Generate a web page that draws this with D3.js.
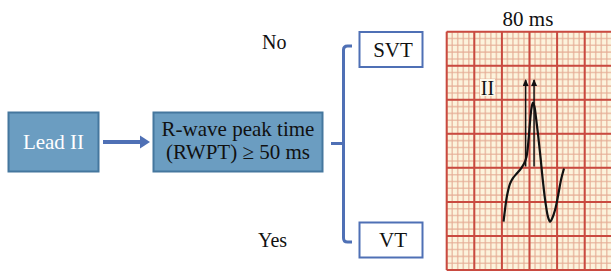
<!DOCTYPE html>
<html>
<head>
<meta charset="utf-8">
<script src="https://cdn.jsdelivr.net/npm/d3@7"></script>
<style>
  body { margin: 0; background: #ffffff; }
  text { font-family: "Liberation Serif", "Times New Roman", serif; }
</style>
</head>
<body>
<script>
// flow chart labels
var startLabel = "Lead II";
var testLabel = ["R-wave peak time", "(RWPT) \u2265 50 ms"];
var branchAnswers = ["No", "Yes"];
var branchResults = ["SVT", "VT"];

// ecg strip (lead II), time in ms and amplitude in mV above bottom of strip
var ecgTitle = "80 ms";
var ecgLead = "II";
var ecgTime = [412, 422, 437, 459, 480, 509, 538, 560, 578, 593, 604, 614, 625,
               636, 647, 662, 680, 698, 716, 734, 749, 767, 785, 807, 828, 850];
var ecgAmp = [0.71, 0.88, 1.09, 1.27, 1.35, 1.42, 1.49, 1.56, 1.66, 1.91, 2.18, 2.37, 2.46,
              2.40, 2.24, 1.99, 1.65, 1.29, 0.99, 0.78, 0.71, 0.77, 0.88, 1.09, 1.32, 1.49];
var markerTime = [572, 633];
var markerAmp = [1.52, 2.79];

var W = 611, H = 271;

var svg = d3.select("body").append("svg")
                .attr("width", W)
                .attr("height", H);

var defs = svg.append("defs");

defs.append("marker")
        .attr("id", "upHead")
        .attr("orient", "auto")
        .attr("markerUnits", "userSpaceOnUse")
        .attr("markerWidth", 7)
        .attr("markerHeight", 8)
        .attr("refX", 6)
        .attr("refY", 3)
      .append("path")
        .attr("d", "M0,0 L7,3 L0,6 Z")
        .style("fill", "#111");

//---------------- flow chart ----------------
var flow = svg.append("g").attr("class", "flow");

var boxFill = "#6b9dc1", boxStroke = "#45779e", lineBlue = "#4f70b5";

flow.append("rect")
        .attr("x", 8.5).attr("y", 112.5)
        .attr("width", 90).attr("height", 59)
        .style("fill", boxFill)
        .style("stroke", boxStroke)
        .style("stroke-width", 2);

flow.append("text")
        .attr("x", 53.5).attr("y", 149)
        .attr("text-anchor", "middle")
        .style("font-size", "21px")
        .style("fill", "#ffffff")
        .text(startLabel);

flow.append("line")
        .attr("x1", 103).attr("x2", 141)
        .attr("y1", 142).attr("y2", 142)
        .style("stroke", lineBlue)
        .style("stroke-width", 4);
flow.append("path")
        .attr("d", "M140,135.5 L150,142 L140,148.5 Z")
        .style("fill", lineBlue);

flow.append("rect")
        .attr("x", 153.5).attr("y", 112.5)
        .attr("width", 169).attr("height", 59)
        .style("fill", boxFill)
        .style("stroke", boxStroke)
        .style("stroke-width", 2);

flow.selectAll("text.test")
        .data(testLabel)
        .enter().append("text")
        .attr("class", "test")
        .attr("x", 238)
        .attr("y", function(d, i){ return 136 + i * 23; })
        .attr("text-anchor", "middle")
        .style("font-size", "21px")
        .style("fill", "#111")
        .text(function(d){ return d; });

// bracket
flow.append("path")
        .attr("d", "M331,143.5 H343")
        .style("stroke", lineBlue)
        .style("stroke-width", 3)
        .style("fill", "none");
flow.append("path")
        .attr("d", "M352,46 H347.5 Q343.5,46 343.5,50 V238 Q343.5,242 347.5,242 H352")
        .style("stroke", lineBlue)
        .style("stroke-width", 3)
        .style("fill", "none");

var resultY = [32, 222.5];
var answerPos = [[262, 49], [258, 247]];

flow.selectAll("rect.result")
        .data(branchResults)
        .enter().append("rect")
        .attr("class", "result")
        .attr("x", 359.5)
        .attr("y", function(d, i){ return resultY[i]; })
        .attr("width", 63).attr("height", 35)
        .style("fill", "#ffffff")
        .style("stroke", lineBlue)
        .style("stroke-width", 2);

flow.selectAll("text.result")
        .data(branchResults)
        .enter().append("text")
        .attr("class", "result")
        .attr("x", 393)
        .attr("y", function(d, i){ return resultY[i] + 24.5; })
        .attr("text-anchor", "middle")
        .style("font-size", "21px")
        .style("fill", "#111")
        .text(function(d){ return d; });

flow.selectAll("text.answer")
        .data(branchAnswers)
        .enter().append("text")
        .attr("class", "answer")
        .attr("x", function(d, i){ return answerPos[i][0]; })
        .attr("y", function(d, i){ return answerPos[i][1]; })
        .style("font-size", "20px")
        .style("fill", "#111")
        .text(function(d){ return d; });

//---------------- ecg strip ----------------
var x = d3.scaleLinear().domain([0, 1200]).range([446.7, 612.3]);
var y = d3.scaleLinear().domain([0, 3.5]).range([270, 31.7]);

var ecg = svg.append("g").attr("class", "ecg");

ecg.append("rect")
        .attr("x", x(0)).attr("y", y(3.5))
        .attr("width", W - x(0)).attr("height", y(0) - y(3.5))
        .style("fill", "#fcf3dc");

var minorX = d3.range(0, 1201, 40), minorY = d3.range(0, 36, 1).map(function(d){ return d / 10; });
var majorX = d3.range(0, 1201, 200), majorY = d3.range(0, 3.51, 0.5);

ecg.selectAll("line.minorX")
        .data(minorX)
        .enter().append("line")
        .attr("x1", function(d){ return x(d); }).attr("x2", function(d){ return x(d); })
        .attr("y1", y(0)).attr("y2", y(3.5))
        .style("stroke", "#e6ad95")
        .style("stroke-width", 1.6)
        .style("opacity", 0.7);

ecg.selectAll("line.minorY")
        .data(minorY)
        .enter().append("line")
        .attr("y1", function(d){ return y(d); }).attr("y2", function(d){ return y(d); })
        .attr("x1", x(0)).attr("x2", W)
        .style("stroke", "#e6ad95")
        .style("stroke-width", 1.6)
        .style("opacity", 0.7);

ecg.selectAll("line.majorX")
        .data(majorX)
        .enter().append("line")
        .attr("x1", function(d){ return x(d); }).attr("x2", function(d){ return x(d); })
        .attr("y1", y(0)).attr("y2", y(3.5))
        .style("stroke", "#c94a40")
        .style("stroke-width", 2);

ecg.selectAll("line.majorY")
        .data(majorY)
        .enter().append("line")
        .attr("y1", function(d){ return y(d); }).attr("y2", function(d){ return y(d); })
        .attr("x1", x(0)).attr("x2", W)
        .style("stroke", "#c94a40")
        .style("stroke-width", 2);

ecg.append("text")
        .attr("x", 528).attr("y", 26)
        .attr("text-anchor", "middle")
        .style("font-size", "21px")
        .style("fill", "#111")
        .text(ecgTitle);

ecg.append("rect")
        .attr("x", 480).attr("y", 79)
        .attr("width", 15).attr("height", 17)
        .style("fill", "#fdf8ea");
ecg.append("text")
        .attr("x", 487.5).attr("y", 95)
        .attr("text-anchor", "middle")
        .style("font-size", "20px")
        .style("fill", "#111")
        .text(ecgLead);

ecg.selectAll("line.marker")
        .data(markerTime)
        .enter().append("line")
        .attr("class", "marker")
        .attr("x1", function(d){ return x(d); }).attr("x2", function(d){ return x(d); })
        .attr("y1", y(markerAmp[0])).attr("y2", y(markerAmp[1]))
        .style("stroke", "#111")
        .style("stroke-width", 1.5)
        .attr("marker-end", "url(#upHead)");

var trace = d3.line()
        .x(function(d, i){ return x(ecgTime[i]); })
        .y(function(d, i){ return y(ecgAmp[i]); })
        .curve(d3.curveCatmullRom.alpha(0.5));

ecg.append("path")
        .attr("d", trace(ecgTime))
        .style("fill", "none")
        .style("stroke", "#111")
        .style("stroke-width", 2.2)
        .style("stroke-linejoin", "round");
</script>
</body>
</html>
